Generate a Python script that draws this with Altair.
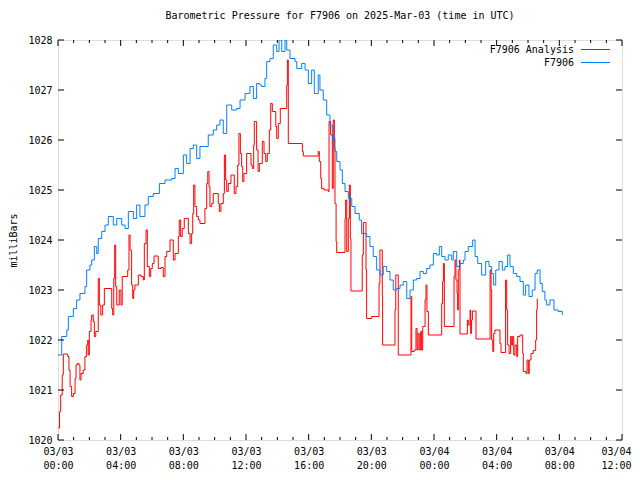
import altair as alt
import pandas as pd

TITLE = "Barometric Pressure for F7906 on 2025-Mar-03 (time in UTC)"
FONT = "DejaVu Sans Mono"

# F7906 (blue) : hours after 2025-03-03 00:00 UTC, pressure (mbar)
blue_h = [0.00, 0.24, 0.56, 0.66, 0.98, 1.19, 1.40, 1.72, 1.83, 2.04, 2.15, 2.32, 2.47, 2.57, 2.79,
          3.00, 3.21, 3.53, 3.75, 4.07, 4.28, 4.49, 4.81, 5.02, 5.23, 5.55, 5.76, 6.08, 6.47, 6.83,
          7.26, 7.47, 7.68, 8.00, 8.21, 8.43, 8.64, 8.85, 9.06, 9.38, 9.59, 9.91, 10.13, 10.34, 10.55,
          10.77, 11.09, 11.41, 11.62, 11.94, 12.25, 12.47, 12.68, 12.89, 13.00, 13.21, 13.32, 13.53,
          13.74, 13.96, 14.11, 14.28, 14.49, 14.60, 14.81, 15.13, 15.24, 15.56, 15.77, 15.98, 16.19,
          16.36, 16.61, 16.72, 16.93, 17.15, 17.36, 17.51, 17.68, 17.79, 18.00, 18.15, 18.32, 18.53,
          18.75, 18.96, 19.23, 19.38, 19.70, 19.91, 20.12, 20.34, 20.55, 20.76, 20.98, 21.19, 21.40,
          21.62, 21.83, 22.04, 22.26, 22.47, 22.68, 22.89, 23.11, 23.32, 23.53, 23.74, 23.96, 24.17,
          24.34, 24.49, 24.70, 24.91, 25.13, 25.23, 25.45, 25.66, 25.87, 25.98, 26.19, 26.47, 26.62,
          26.79, 27.04, 27.30, 27.51, 27.68, 27.79, 27.94, 28.15, 28.36, 28.53, 28.70, 28.85, 29.06,
          29.28, 29.49, 29.70, 29.85, 30.06, 30.27, 30.45, 30.59, 30.77, 30.91, 31.08, 31.19, 31.40,
          31.66, 31.93, 32.19]
blue_p = [1021.70, 1022.07, 1022.20, 1022.47, 1022.63, 1022.80, 1022.93, 1023.07, 1023.40, 1023.50,
          1023.60, 1023.87, 1023.73, 1024.03, 1024.17, 1024.30, 1024.47, 1024.30, 1024.43, 1024.30,
          1024.23, 1024.57, 1024.43, 1024.70, 1024.47, 1024.70, 1024.87, 1024.93, 1025.13, 1025.20,
          1025.23, 1025.43, 1025.33, 1025.70, 1025.53, 1025.83, 1025.90, 1025.63, 1025.87, 1025.87,
          1026.10, 1026.20, 1026.30, 1026.40, 1026.13, 1026.70, 1026.60, 1026.63, 1026.80, 1026.93,
          1027.07, 1026.83, 1027.13, 1027.10, 1027.07, 1027.23, 1027.57, 1027.63, 1027.90, 1027.77,
          1028.00, 1027.77, 1028.00, 1027.80, 1027.63, 1027.57, 1027.43, 1027.53, 1027.40, 1027.13,
          1027.40, 1026.93, 1027.30, 1027.00, 1026.80, 1026.50, 1026.30, 1026.03, 1025.77, 1025.57,
          1025.40, 1025.13, 1024.97, 1024.83, 1024.67, 1024.53, 1024.40, 1024.13, 1024.07, 1023.87,
          1023.67, 1023.40, 1023.30, 1023.47, 1023.37, 1023.20, 1023.00, 1023.03, 1023.10, 1023.17,
          1022.83, 1023.00, 1023.20, 1023.23, 1023.37, 1023.33, 1023.43, 1023.50, 1023.73, 1023.70,
          1023.87, 1023.67, 1023.60, 1023.70, 1023.60, 1023.77, 1023.47, 1023.53, 1023.60, 1023.77,
          1023.87, 1024.00, 1023.67, 1023.53, 1023.30, 1023.57, 1023.47, 1023.33, 1023.10, 1023.40,
          1023.57, 1023.40, 1023.47, 1023.70, 1023.47, 1023.33, 1023.27, 1023.17, 1022.90, 1023.10,
          1022.87, 1023.00, 1023.33, 1023.40, 1023.13, 1022.97, 1022.80, 1022.70, 1022.80, 1022.60,
          1022.57, 1022.50]

# F7906 Analysis (red)
red_h = [0.00, 0.10, 0.17, 0.27, 0.34, 0.62, 0.70, 0.77, 0.87, 0.98, 1.09, 1.15, 1.23, 1.34, 1.40,
         1.47, 1.61, 1.72, 1.83, 1.90, 1.93, 2.00, 2.11, 2.15, 2.25, 2.32, 2.41, 2.57, 2.64, 2.73,
         2.85, 2.96, 3.43, 3.49, 3.56, 3.62, 3.68, 3.75, 3.91, 4.02, 4.10, 4.45, 4.53, 4.60, 4.70,
         4.77, 4.83, 4.91, 5.13, 5.30, 5.45, 5.51, 5.62, 5.70, 5.83, 5.92, 6.02, 6.13, 6.40, 6.58,
         6.72, 6.83, 6.94, 7.15, 7.36, 7.47, 7.68, 7.74, 7.83, 7.93, 8.06, 8.32, 8.43, 8.53, 8.60,
         8.66, 8.74, 8.85, 8.96, 9.06, 9.38, 9.49, 9.56, 9.64, 9.70, 9.81, 9.91, 10.23, 10.30, 10.40,
         10.55, 10.62, 10.70, 10.77, 10.87, 11.04, 11.25, 11.36, 11.47, 11.55, 11.64, 11.72, 11.79,
         11.87, 12.04, 12.32, 12.40, 12.49, 12.53, 12.68, 12.77, 12.85, 13.04, 13.15, 13.26, 13.36,
         13.49, 13.58, 13.68, 13.90, 13.96, 14.06, 14.19, 14.60, 14.64, 14.70, 15.60, 15.66, 16.61,
         16.68, 16.77, 16.83, 16.98, 17.25, 17.30, 17.40, 17.51, 17.57, 17.64, 17.68, 17.75, 17.79,
         18.32, 18.36, 18.43, 18.53, 18.60, 18.66, 18.70, 19.42, 19.49, 19.66, 19.70, 20.02, 20.49,
         20.55, 20.70, 20.72, 21.51, 21.56, 21.72, 22.53, 22.58, 22.74, 22.85, 22.92, 22.98, 23.06,
         23.15, 23.21, 23.28, 23.43, 23.49, 23.55, 23.64, 24.49, 24.55, 24.60, 24.66, 25.28, 25.34,
         25.40, 25.47, 25.51, 25.55, 25.62, 25.66, 26.13, 26.19, 26.30, 26.34, 26.40, 26.45, 26.68,
         27.58, 27.64, 27.68, 27.75, 27.81, 27.89, 28.21, 28.28, 28.57, 28.64, 28.70, 28.79, 28.89,
         28.96, 29.02, 29.09, 29.17, 29.28, 29.34, 29.49, 29.66, 29.70, 29.87, 29.94, 30.02, 30.08,
         30.19, 30.34, 30.49, 30.55, 30.59]
red_p = [1020.24, 1020.57, 1020.90, 1021.30, 1021.72, 1021.67, 1021.40, 1021.07, 1020.87, 1020.93,
         1021.23, 1021.50, 1021.53, 1021.50, 1021.20, 1021.33, 1021.40, 1021.67, 1021.90, 1022.00,
         1021.70, 1022.17, 1022.40, 1022.50, 1022.37, 1022.07, 1022.17, 1023.23, 1022.70, 1022.50,
         1022.70, 1023.03, 1022.63, 1022.50, 1023.23, 1023.90, 1023.07, 1022.70, 1023.00, 1022.70,
         1023.27, 1023.40, 1024.10, 1023.80, 1023.10, 1022.83, 1023.00, 1023.10, 1023.30, 1023.27,
         1023.20, 1023.93, 1024.20, 1023.47, 1023.27, 1023.43, 1023.53, 1023.68, 1023.43, 1023.45,
         1023.27, 1023.67, 1023.77, 1024.00, 1023.60, 1023.73, 1024.07, 1024.40, 1024.07, 1024.23,
         1024.43, 1024.13, 1023.93, 1024.13, 1024.53, 1025.10, 1024.67, 1024.47, 1024.40, 1024.33,
         1024.63, 1025.13, 1025.37, 1025.07, 1024.67, 1024.73, 1024.93, 1024.73, 1024.57, 1024.73,
         1024.93, 1025.70, 1025.20, 1024.97, 1025.13, 1025.30, 1024.93, 1025.07, 1025.50, 1026.13,
         1025.73, 1025.47, 1025.17, 1025.33, 1025.73, 1025.50, 1025.43, 1025.90, 1026.37, 1025.80,
         1025.37, 1025.53, 1025.97, 1025.73, 1025.57, 1025.73, 1026.20, 1026.73, 1026.57, 1026.27,
         1026.03, 1026.33, 1026.63, 1027.10, 1027.60, 1025.93, 1025.77, 1025.68, 1025.77, 1025.57,
         1025.23, 1025.03, 1025.00, 1024.97, 1026.37, 1026.10, 1025.03, 1026.40, 1025.83, 1024.73,
         1023.97, 1023.75, 1024.43, 1024.80, 1023.77, 1024.43, 1025.10, 1024.03, 1022.98, 1023.70,
         1024.35, 1023.40, 1022.43, 1022.47, 1023.13, 1023.80, 1022.87, 1021.90, 1022.60, 1023.30,
         1021.70, 1022.87, 1021.77, 1021.80, 1022.23, 1021.80, 1022.13, 1021.80, 1022.17, 1021.80,
         1022.27, 1022.80, 1023.10, 1022.57, 1022.10, 1022.73, 1023.17, 1023.53, 1022.27, 1023.27,
         1023.60, 1023.20, 1022.93, 1022.60, 1023.40, 1023.60, 1022.12, 1022.40, 1022.30, 1022.60,
         1022.13, 1022.40, 1022.58, 1022.02, 1023.40, 1023.00, 1022.00, 1021.77, 1022.13, 1022.20,
         1021.93, 1021.75, 1023.20, 1022.60, 1021.90, 1021.73, 1022.07, 1021.90, 1022.07, 1021.70,
         1021.90, 1021.67, 1022.07, 1022.10, 1021.73, 1021.37, 1021.33, 1021.60, 1021.33, 1021.60,
         1021.73, 1021.79, 1022.00, 1022.60, 1022.83]

x_major = [0, 4, 8, 12, 16, 20, 24, 28, 32, 36]
x_minor = [h for h in range(0, 37) if h % 4 != 0]
y_ticks = [1020, 1021, 1022, 1023, 1024, 1025, 1026, 1027, 1028]
series_names = ["F7906 Analysis", "F7906"]
series_colors = ["#ff0000", "#0080ff"]

W, H = 564, 400

xs = alt.Scale(domain=[0, 36], nice=False, zero=False)
ys = alt.Scale(domain=[1020, 1028], nice=False, zero=False)

label_expr = ("[datum.value < 24 ? '03/03' : '03/04', "
              "(datum.value % 24 < 10 ? '0' : '') + (datum.value % 24) + ':00']")

red_df = pd.DataFrame({"h": red_h, "p": red_p})
blue_df = pd.DataFrame({"h": blue_h, "p": blue_p})

last_tick = "datum.value >= 36"

red = alt.Chart(red_df).mark_line(interpolate="step-after", color=series_colors[0], strokeWidth=1, clip=True).encode(
    x=alt.X("h:Q", scale=xs,
            axis=alt.Axis(values=x_major, labelExpr=label_expr, ticks=False, domain=False, grid=False,
                          title=None, labelLineHeight=14, labelPadding=6, labelFlush=False,
                          labelAlign=alt.ConditionalAxisLabelAlign(
                              condition={"test": last_tick, "value": "right"}, value="center"),
                          labelOffset=alt.ConditionalAxisNumber(
                              condition={"test": last_tick, "value": 9}, value=0),
                          labelFont=FONT, labelFontSize=10, labelColor="black")),
    y=alt.Y("p:Q", scale=ys,
            axis=alt.Axis(values=y_ticks, format="d", ticks=False, domain=False, grid=False,
                          title="milliBars", titlePadding=9, labelPadding=6,
                          titleFont=FONT, titleFontSize=10, titleFontWeight="normal", titleColor="black",
                          labelFont=FONT, labelFontSize=10, labelColor="black")),
)
blue = alt.Chart(blue_df).mark_line(interpolate="step-after", color=series_colors[1], strokeWidth=1, clip=True).encode(
    x=alt.X("h:Q", scale=xs), y=alt.Y("p:Q", scale=ys)
)

maj_df = pd.DataFrame({"h": x_major})
min_df = pd.DataFrame({"h": x_minor})
yt_df = pd.DataFrame({"p": y_ticks})

tick_layers = []
for df, ln in [(maj_df, 6), (min_df, 3)]:
    tick_layers.append(alt.Chart(df).mark_rule(color="black", strokeWidth=1).encode(
        x=alt.X("h:Q", scale=xs), y=alt.value(H), y2=alt.value(H - ln)))
    tick_layers.append(alt.Chart(df).mark_rule(color="black", strokeWidth=1).encode(
        x=alt.X("h:Q", scale=xs), y=alt.value(0), y2=alt.value(ln)))
tick_layers.append(alt.Chart(yt_df).mark_rule(color="black", strokeWidth=1).encode(
    y=alt.Y("p:Q", scale=ys), x=alt.value(0), x2=alt.value(6)))
tick_layers.append(alt.Chart(yt_df).mark_rule(color="black", strokeWidth=1).encode(
    y=alt.Y("p:Q", scale=ys), x=alt.value(W), x2=alt.value(W - 6)))

leg_layers = []
for i, (name, col) in enumerate(zip(series_names, series_colors)):
    yy = 9.5 + 13 * i
    ld = pd.DataFrame({"t": [name]})
    leg_layers.append(alt.Chart(ld).mark_text(align="right", baseline="middle", font=FONT, fontSize=10,
                                              color="black").encode(
        text="t:N", x=alt.value(516), y=alt.value(yy)))
    leg_layers.append(alt.Chart(ld).mark_rule(color=col, strokeWidth=1).encode(
        x=alt.value(523), x2=alt.value(552), y=alt.value(yy)))

chart = alt.layer(red, blue, *tick_layers, *leg_layers).properties(
    width=W, height=H,
    title=alt.TitleParams(TITLE, font=FONT, fontSize=10, fontWeight="normal", anchor="middle", offset=14,
                          color="black"),
    autosize=alt.AutoSizeParams(type="none"),
    padding={"left": 50, "top": 32, "right": 10, "bottom": 32},
).configure_view(stroke="black", strokeWidth=1).configure_axis(
    labelFont=FONT, labelFontSize=10, labelColor="black", titleFont=FONT, titleFontSize=10,
    titleColor="black", titleFontWeight="normal"
).configure(background="white")

chart.save("out.html", embed_options={"renderer": "svg", "actions": False})
